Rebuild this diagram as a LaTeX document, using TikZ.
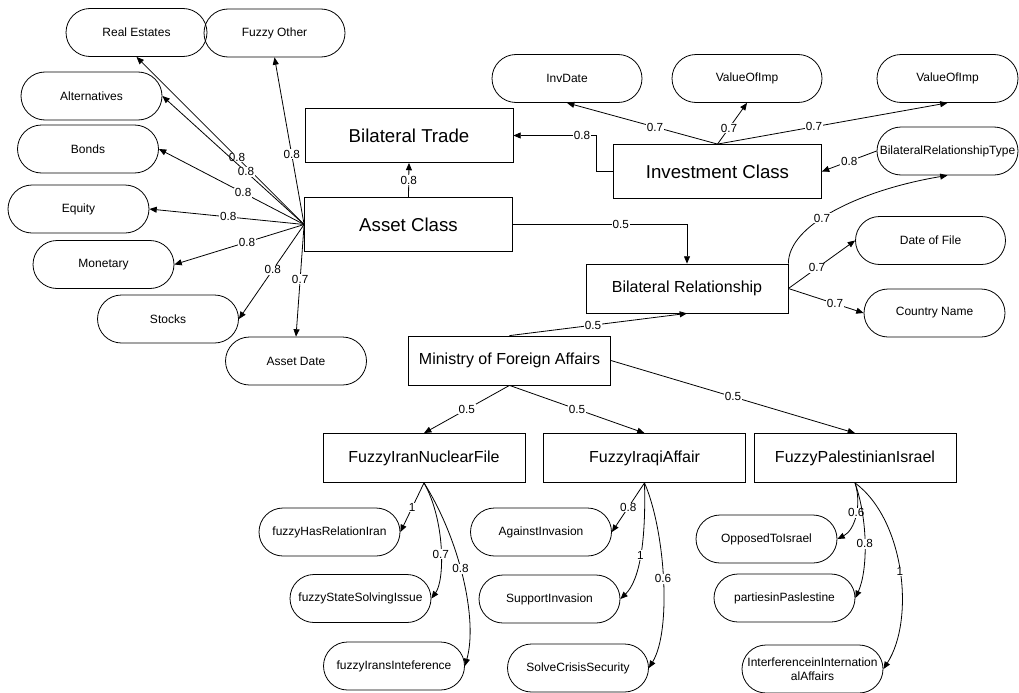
\documentclass[tikz,border=0pt]{standalone}
\usepackage{fontspec}
\setmainfont{Liberation Sans}
\usetikzlibrary{arrows.meta}

\begin{document}
\begin{tikzpicture}[x=0.75pt, y=-0.75pt, line width=0.6pt,
  >={Triangle[length=5.5pt,width=4.5pt]},
  bigbox/.style={draw, minimum width=156pt, minimum height=40.5pt, font=\fontsize{14}{16}\selectfont},
  midbox/.style={draw, minimum width=151.5pt, minimum height=36.75pt, font=\fontsize{12}{14}\selectfont},
  pill/.style={draw, rounded corners=18pt, minimum width=105.75pt, minimum height=36pt, inner xsep=0pt, font=\fontsize{9}{10.5}\selectfont},
  wpill/.style={pill, minimum width=112.5pt},
  lbl/.style={fill=white, inner sep=0.6pt, font=\fontsize{8.8}{9}\selectfont},
  ed/.style={->}]
\useasboundingbox (0,0) rectangle (1019,692);
% main classes
\node[bigbox] (BT) at (409,135.5) {Bilateral Trade};
\node[bigbox] (AC) at (408.5,224.5) {Asset Class};
\node[bigbox] (IC) at (717.5,171.5) {Investment Class};
% asset kinds
\node[pill] (RE) at (136.5,32.5) {Real Estates};
\node[pill] (FO) at (274.5,33) {Fuzzy Other};
\node[pill] (AL) at (91.5,96) {Alternatives};
\node[pill] (BO) at (88,149) {Bonds};
\node[pill] (EQ) at (78.5,209) {Equity};
\node[pill] (MO) at (103.5,264.5) {Monetary};
\node[pill] (ST) at (168,319) {Stocks};
\node[pill] (AD) at (296,361) {Asset Date};
% investment attributes
\node[wpill] (ID) at (567,78.5) {InvDate};
\node[wpill] (V1) at (747,78.5) {ValueOfImp};
\node[pill] (V2) at (947.5,78.5) {ValueOfImp};
\node[pill] (BRT) at (947.5,151) {BilateralRelationshipType};
% relationship and ministry
\node[midbox] (BR) at (687,288.5) {Bilateral Relationship};
\node[wpill] (DF) at (930.5,240.5) {Date of File};
\node[pill] (CN) at (934.5,313) {Country Name};
\node[midbox] (MF) at (509.5,360.5) {Ministry of Foreign Affairs};
% affairs
\node[midbox] (FIN) at (424,458) {FuzzyIranNuclearFile};
\node[midbox] (FIQ) at (644.5,458) {FuzzyIraqiAffair};
\node[midbox] (FPI) at (855,458) {FuzzyPalestinianIsrael};
\node[pill] (HR) at (329.5,532) {fuzzyHasRelationIran};
\node[pill] (SS) at (360.5,598.5) {fuzzyStateSolvingIssue};
\node[pill] (IR) at (394,666) {fuzzyIransInteference};
\node[pill] (AI) at (541,532) {AgainstInvasion};
\node[pill] (SI) at (549.5,599) {SupportInvasion};
\node[pill] (SC) at (578,668) {SolveCrisisSecurity};
\node[pill] (OI) at (766.5,539) {OpposedToIsrael};
\node[pill] (PP) at (784.5,598) {partiesinPaslestine};
\node[pill, align=center] (II) at (812.5,669) {InterferenceinInternation\\alAffairs};
% asset class fan
\foreach \t/\a/\v/\p in {RE/south/0.8/0.40, FO/south/0.8/0.42, AL/east/0.8/0.41, BO/east/0.8/0.42,
                         EQ/east/0.8/0.49, MO/east/0.8/0.44, ST/east/0.8/0.48, AD/north/0.7/0.49}
  \draw[ed] (AC.west) -- node[lbl,pos=\p]{\v} (\t.\a);
\draw[ed] (AC.north) -- node[lbl]{0.8} (BT.south);
% investment class
\draw[ed] (IC.west) -- ++(-17,0) |- node[lbl,pos=0.585]{0.8} (BT.east);
\foreach \t/\p in {ID/0.415, V1/0.39, V2/0.42}
  \draw[ed] (IC.north) -- node[lbl,pos=\p]{0.7} (\t.south);
\draw[ed] (BRT.west) -- node[lbl]{0.8} (IC.east);
% bilateral relationship
\draw[ed] (AC.east) -| node[lbl,pos=0.31]{0.5} (BR.north);
\draw[ed] (MF.north) -- node[lbl,pos=0.47]{0.5} (BR.south);
\draw[ed] (BR.east) -- node[lbl,pos=0.43]{0.7} (DF.west);
\draw[ed] (BR.east) -- node[lbl,pos=0.62]{0.7} (CN.west);
\draw[ed] (BR.north east) .. controls (788,225) and (860,190) .. node[lbl,pos=0.42]{0.7} (BRT.south);
% ministry
\draw[ed] (MF.south) -- node[lbl]{0.5} (FIN.north);
\draw[ed] (MF.south) -- node[lbl]{0.5} (FIQ.north);
\draw[ed] (MF.east) -- node[lbl]{0.5} (FPI.north);
% affairs children
\draw[ed] (FIN.south) -- node[lbl]{1} (HR.east);
\draw[ed] (FIN.south) .. controls (445,520) and (445,580) .. node[lbl,pos=0.55]{0.7} (SS.east);
\draw[ed] (FIN.south) .. controls (460,540) and (478,620) .. node[lbl,pos=0.45]{0.8} (IR.east);
\draw[ed] (FIQ.south) -- node[lbl]{0.8} (AI.east);
\draw[ed] (FIQ.south) .. controls (646,540) and (640,580) .. node[lbl]{1} (SI.east);
\draw[ed] (FIQ.south) .. controls (665,530) and (672,630) .. node[lbl]{0.6} (SC.east);
\draw[ed] (FPI.south) .. controls (862,505) and (855,530) .. node[lbl,pos=0.45]{0.6} (OI.east);
\draw[ed] (FPI.south) .. controls (868,520) and (868,570) .. node[lbl]{0.8} (PP.east);
\draw[ed] (FPI.south) .. controls (905,520) and (915,620) .. node[lbl]{1} (II.east);
\end{tikzpicture}
\end{document}
